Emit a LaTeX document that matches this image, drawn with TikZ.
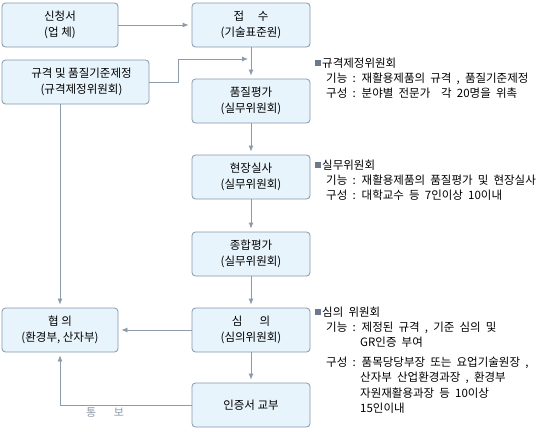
\documentclass[tikz,border=0pt]{standalone}
\usepackage{fontspec}
\setmainfont{Noto Sans CJK KR}
\newfontfamily\notefont[WordSpace=2]{Noto Sans CJK KR}
\usetikzlibrary{arrows.meta}
\definecolor{boxfill}{HTML}{E8F4FC}
\definecolor{boxline}{HTML}{8497AA}
\definecolor{arr}{HTML}{8C9AAA}
\definecolor{sq}{HTML}{6A7A8C}
\begin{document}
\begin{tikzpicture}[x=1pt,y=-1pt,
  box/.style={draw=boxline, fill=boxfill, rounded corners=3.5pt, line width=0.8pt,
    align=center, font=\fontsize{11.5}{16}\selectfont, inner sep=0pt,
    minimum width=118pt, minimum height=44pt},
  conn/.style={draw=arr, line width=0.8pt, -{Latex[length=6pt,width=5pt]}, shorten >=3pt},
  wire/.style={draw=arr, line width=0.8pt},
  note/.style={anchor=base west, inner sep=0pt, font=\notefont\fontsize{11.5}{13}\selectfont},
  bullet/.style={fill=sq, draw=none, minimum size=6pt, inner sep=0pt}]
\useasboundingbox (0,0) rectangle (547,432);
\fill[white] (0,0) rectangle (547,432);
% boxes
\node[box, minimum width=116pt] (shin) at (60,25) {신청서\\(업 체)};
\node[box] (jeop) at (251,25) {접\hspace{1.2em}수\\(기술표준원)};
\node[box, minimum width=147pt] (gyu) at (75.5,82) {\hspace{12pt}규격 및 품질기준제정\\\hspace{12pt}(규격제정위원회)};
\node[box] (pum) at (251,101) {품질평가\\(실무위원회)};
\node[box] (hyeon) at (251,177) {현장실사\\(실무위원회)};
\node[box] (jong) at (251,254) {종합평가\\(실무위원회)};
\node[box] (sim) at (251,330) {심\hspace{1.5em}의\\(심의위원회)};
\node[box] (inj) at (251,405) {인증서 교부};
\node[box, minimum width=116pt] (hyeop) at (60,330) {협 의\\(환경부, 산자부)};
% connectors
\coordinate (j1) at (178,82);
\coordinate (j2) at (178,59);
\coordinate (j3) at (251,59);
\coordinate (t1) at (60,405);
\draw[conn] (shin.east) -- (jeop.west);
\draw[conn] (jeop.south) -- (pum.north);
\draw[wire] (gyu.east |- j1) -- (j1) -- (j2);
\draw[conn] (j2) -- (j3);
\draw[conn] (gyu.south -| hyeop.north) -- (hyeop.north);
\draw[conn] (pum.south) -- (hyeon.north);
\draw[conn] (hyeon.south) -- (jong.north);
\draw[conn] (jong.south) -- (sim.north);
\draw[conn] (sim.south) -- (inj.north);
\draw[conn] (sim.west) -- (hyeop.east);
\draw[wire] (inj.west) -- (t1);
\draw[conn] (t1) -- (hyeop.south);
\node[text=arr, font=\fontsize{11}{13}\selectfont, inner sep=0pt] (tb) at (105,413) {통\hspace{1.6em}보};
% notes block 1
\node[bullet] (b1) at (318,63) {};
\node[note] (n11) at (322,67) {규격제정위원회};
\node[note] (n12) at (326,82) {기능 : 재활용제품의 규격 , 품질기준제정};
\node[note] (n13) at (326,97) {구성 : 분야별 전문가\hspace{0.5em} 각 20명을 위촉};
% notes block 2
\node[bullet] (b2) at (318,165) {};
\node[note] (n21) at (322,169) {실무위원회};
\node[note] (n22) at (326,184) {기능 : 재활용제품의 품질평가 및 현장실사};
\node[note] (n23) at (326,199) {구성 : 대학교수 등 7인이상 10이내};
% notes block 3
\node[bullet] (b3) at (318,312) {};
\node[note] (n31) at (322,316) {심의 위원회};
\node[note] (n32) at (326,331) {기능 : 제정된 규격 , 기준 심의 및};
\node[note] (n33) at (360,346) {GR인증 부여};
\node[note] (n34) at (326,366) {구성 : 품목당당부장 또는 요업기술원장 ,};
\node[note] (n35) at (360,381) {산자부 산업환경과장 , 환경부};
\node[note] (n36) at (360,397) {자원재활용과장 등 10이상};
\node[note] (n37) at (360,412) {15인이내};
\end{tikzpicture}
\end{document}
